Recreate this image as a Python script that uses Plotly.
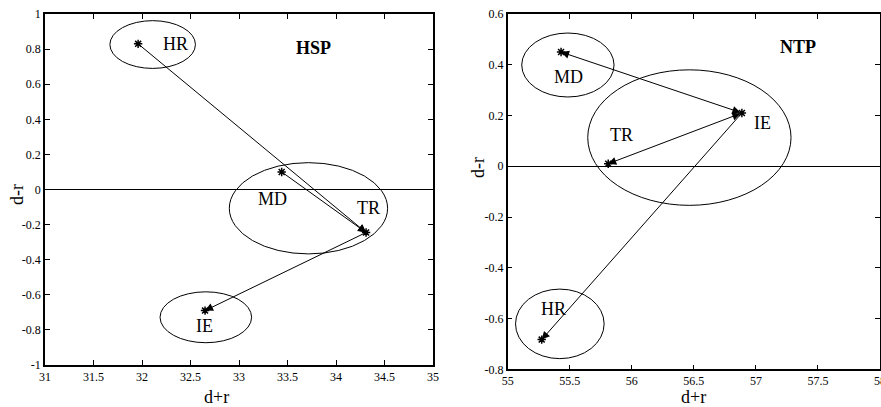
import plotly.graph_objects as go

# ---- HSP panel data ----
hsp_names = ["HR", "MD", "TR", "IE"]
hsp_x = [31.96, 33.44, 34.31, 32.65]
hsp_y = [0.83, 0.10, -0.245, -0.69]
# transitions (from, to, double-headed)
hsp_moves = [("HR", "TR", False), ("MD", "TR", False), ("TR", "IE", False)]
# cluster ellipses: centre x, centre y, radius x, radius y
hsp_ell_cx = [32.11, 33.716, 32.658]
hsp_ell_cy = [0.826, -0.107, -0.728]
hsp_ell_rx = [0.441, 0.816, 0.472]
hsp_ell_ry = [0.136, 0.26, 0.145]
hsp_lbl_x = [32.35, 33.35, 34.34, 32.64]
hsp_lbl_y = [0.83, -0.056, -0.107, -0.78]

# ---- NTP panel data ----
ntp_names = ["HR", "MD", "TR", "IE"]
ntp_x = [55.274, 55.43, 55.81, 56.887]
ntp_y = [-0.683, 0.45, 0.01, 0.21]
ntp_moves = [("IE", "MD", True), ("IE", "TR", True), ("IE", "HR", False)]
ntp_ell_cx = [55.485, 56.464, 55.42]
ntp_ell_cy = [0.399, 0.113, -0.621]
ntp_ell_rx = [0.372, 0.819, 0.357]
ntp_ell_ry = [0.126, 0.267, 0.137]
ntp_lbl_x = [55.37, 55.49, 55.92, 57.05]
ntp_lbl_y = [-0.561, 0.352, 0.122, 0.171]

# tick values / labels
hsp_xticks = [31, 31.5, 32, 32.5, 33, 33.5, 34, 34.5, 35]
hsp_yticks = [-1, -0.8, -0.6, -0.4, -0.2, 0, 0.2, 0.4, 0.6, 0.8, 1]
ntp_xticks = [55, 55.5, 56, 56.5, 57, 57.5, 58]
ntp_yticks = [-0.8, -0.6, -0.4, -0.2, 0, 0.2, 0.4, 0.6]

SERIF = "Liberation Serif, Times New Roman, serif"
W, H = 881, 407

fig = go.Figure()

panels = [
    dict(names=hsp_names, x=hsp_x, y=hsp_y, moves=hsp_moves,
         ecx=hsp_ell_cx, ecy=hsp_ell_cy, erx=hsp_ell_rx, ery=hsp_ell_ry,
         lx=hsp_lbl_x, ly=hsp_lbl_y, title="HSP", tx=33.77, ty=0.805,
         xr="x", yr="y"),
    dict(names=ntp_names, x=ntp_x, y=ntp_y, moves=ntp_moves,
         ecx=ntp_ell_cx, ecy=ntp_ell_cy, erx=ntp_ell_rx, ery=ntp_ell_ry,
         lx=ntp_lbl_x, ly=ntp_lbl_y, title="NTP", tx=57.34, ty=0.47,
         xr="x2", yr="y2"),
]

shapes = []
annotations = []
for p in panels:
    fig.add_trace(go.Scatter(
        x=p["x"], y=p["y"], mode="markers", xaxis=p["xr"], yaxis=p["yr"],
        marker=dict(symbol="asterisk-open", size=7, color="black",
                    line=dict(color="black", width=1.5)),
        showlegend=False, hoverinfo="skip"))
    for cx, cy, rx, ry in zip(p["ecx"], p["ecy"], p["erx"], p["ery"]):
        shapes.append(dict(type="circle", xref=p["xr"], yref=p["yr"],
                           x0=cx - rx, x1=cx + rx, y0=cy - ry, y1=cy + ry,
                           line=dict(color="black", width=1)))
    pos = {n: (xv, yv) for n, xv, yv in zip(p["names"], p["x"], p["y"])}
    for src, dst, both in p["moves"]:
        (x0, y0), (x1, y1) = pos[src], pos[dst]
        a = dict(x=x1, y=y1, ax=x0, ay=y0, xref=p["xr"], yref=p["yr"],
                 axref=p["xr"], ayref=p["yr"], text="", showarrow=True,
                 arrowhead=2, arrowsize=1.6, arrowwidth=1, arrowcolor="black",
                 standoff=0, startstandoff=0)
        if both:
            a.update(arrowside="end+start", startarrowhead=2, startarrowsize=1.6)
        annotations.append(a)
    for n, lx, ly in zip(p["names"], p["lx"], p["ly"]):
        annotations.append(dict(x=lx, y=ly, xref=p["xr"], yref=p["yr"], text=n,
                                showarrow=False,
                                font=dict(family=SERIF, size=18, color="black")))
    annotations.append(dict(x=p["tx"], y=p["ty"], xref=p["xr"], yref=p["yr"],
                            text="<b>%s</b>" % p["title"], showarrow=False,
                            font=dict(family=SERIF, size=18, color="black")))

# axis titles placed in page pixels
for txt, x, y, ang in [("d-r", 17, 195, -90), ("d+r", 216, 397, 0),
                       ("d-r", 478, 168, -90), ("d+r", 693, 397, 0)]:
    annotations.append(dict(x=x / W, y=1 - y / H, xref="paper", yref="paper",
                            xanchor="center", yanchor="middle",
                            text=txt, showarrow=False, textangle=ang,
                            font=dict(family=SERIF, size=18, color="black")))


def fmt(v):
    return "%g" % v


axis_common = dict(showline=True, linecolor="black", linewidth=1.5, mirror="ticks",
                   ticks="inside", ticklen=5, tickcolor="black", tickwidth=1,
                   showgrid=False, automargin=False, ticklabeloverflow="allow",
                   tickfont=dict(family=SERIF, size=12, color="black"))

fig.update_layout(
    template="none",
    width=W, height=H, margin=dict(l=0, r=0, t=0, b=0, autoexpand=False),
    paper_bgcolor="white", plot_bgcolor="white",
    shapes=shapes, annotations=annotations,
    xaxis=dict(domain=[45 / W, 433 / W], range=[31, 35], anchor="y",
               tickvals=hsp_xticks, ticktext=[fmt(v) for v in hsp_xticks],
               zeroline=False, **axis_common),
    yaxis=dict(domain=[1 - 365 / H, 1 - 14 / H], range=[-1, 1], anchor="x",
               tickvals=hsp_yticks, ticktext=[fmt(v) for v in hsp_yticks],
               zeroline=True, zerolinecolor="black", zerolinewidth=1,
               **axis_common),
    xaxis2=dict(domain=[507.7 / W, 880 / W], range=[55, 58], anchor="y2",
                tickvals=ntp_xticks, ticktext=[fmt(v) for v in ntp_xticks],
                zeroline=False, **axis_common),
    yaxis2=dict(domain=[1 - 369.3 / H, 1 - 14 / H], range=[-0.8, 0.6], anchor="x2",
                tickvals=ntp_yticks, ticktext=[fmt(v) for v in ntp_yticks],
                zeroline=True, zerolinecolor="black", zerolinewidth=1,
                **axis_common),
)

fig.write_html("out.html")
